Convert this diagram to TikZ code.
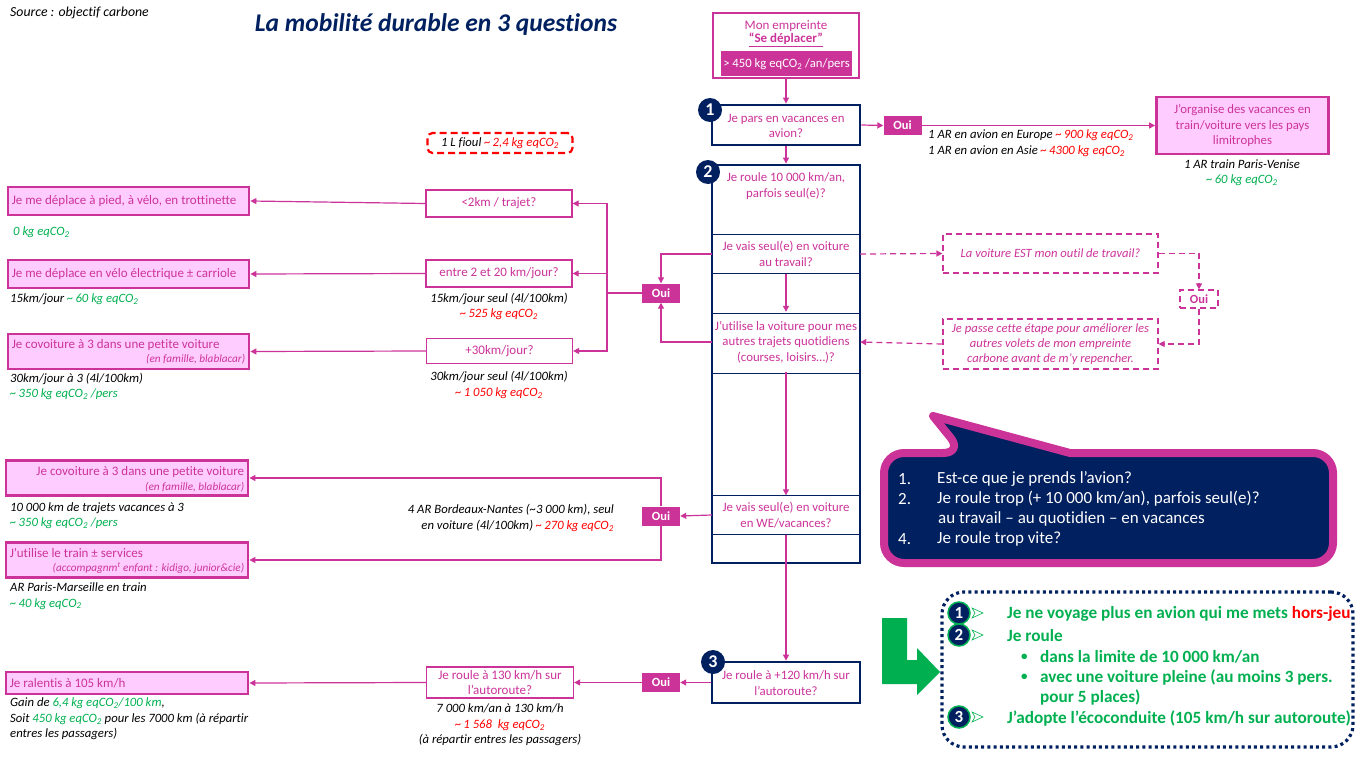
\documentclass[tikz,border=0pt]{standalone}
\usepackage{fontspec}
\setmainfont[Ligatures={TeX,NoCommon}]{Carlito}
\usetikzlibrary{arrows.meta,calc}
\definecolor{mag}{HTML}{CC3399}
\definecolor{pinkf}{HTML}{FFCCFF}
\definecolor{navy}{HTML}{002060}
\definecolor{grn}{HTML}{00B050}
\definecolor{rd}{HTML}{FF0000}
\newcommand\cotwo{eqCO\textsubscript{2}}
\newcommand\tld{\textasciitilde\,}
\tikzset{
  qbox/.style={draw=mag, line width=1.3pt, fill=white, text=mag, align=center, inner sep=0pt, font=\fontsize{13}{15.5}\selectfont},
  lbox/.style={draw=mag, line width=2.8pt, fill=pinkf, inner sep=0pt},
  ltxt/.style={text=mag, anchor=west, inner sep=0pt, font=\fontsize{13}{15}\selectfont},
  lsub/.style={text=mag, anchor=east, inner sep=0pt, font=\fontsize{11.2}{13}\selectfont\itshape},
  oui/.style={fill=mag, text=white, font=\fontsize{12.5}{14}\selectfont\bfseries, minimum width=38, minimum height=19, inner sep=0pt},
  nbox/.style={draw=navy, line width=2.8pt, fill=white, inner sep=0pt},
  rowline/.style={draw=navy, line width=0.9pt},
  row/.style={text=mag, align=center, inner sep=0pt, font=\fontsize{12.8}{15.5}\selectfont},
  arr/.style={draw=mag, line width=1.2pt, -{Triangle[length=6pt,width=6pt]}},
  ln/.style={draw=mag, line width=1.2pt},
  darr/.style={arr, dash pattern=on 6pt off 4pt},
  dbox/.style={draw=mag, line width=1.2pt, dash pattern=on 6pt off 4pt, text=mag, align=center, inner sep=0pt, font=\fontsize{12.6}{15}\selectfont\itshape},
  note/.style={inner sep=0pt, font=\fontsize{12.7}{15.5}\selectfont\itshape, align=center},
  notel/.style={note, anchor=west, align=left},
  noter/.style={note, anchor=east, align=right},
  badge/.style={circle, fill=navy, text=white, inner sep=0pt, minimum size=24, font=\fontsize{18}{18}\selectfont\bfseries},
  gbadge/.style={circle, fill=navy, draw=grn, line width=1.5pt, text=white, inner sep=0pt, minimum size=22, font=\fontsize{17}{17}\selectfont\bfseries},
  gtxt/.style={anchor=west, inner sep=0pt, text=grn, font=\fontsize{17.2}{19}\selectfont\bfseries},
  ctxt/.style={anchor=west, inner sep=0pt, text=white, font=\fontsize{17}{19}\selectfont},
}
\begin{document}
\begin{tikzpicture}[x=1pt,y=-1pt]
\useasboundingbox (0,0) rectangle (1366,768);
% header
\node[anchor=west, inner sep=0pt, font=\fontsize{13.8}{15}\selectfont\itshape] (src) at (10,13) {Source : objectif carbone};
\node[inner sep=0pt, text=navy, font=\fontsize{25.5}{28}\selectfont\bfseries\itshape] (title) at (436,25) {La mobilité durable en 3 questions};

% top box
\node[draw=mag, line width=1.3pt, minimum width=146, minimum height=65, inner sep=0pt] (emp) at (786,45.5) {};
\node[text=mag, inner sep=0pt, font=\fontsize{13}{15}\selectfont] (empt) at (786,26) {Mon empreinte};
\node[text=mag, inner sep=0pt, font=\fontsize{13}{15}\selectfont\bfseries] (emps) at (786,40) {\underline{“Se déplacer”}};
\node[fill=mag, text=white, minimum width=131, minimum height=25, inner sep=0pt, font=\fontsize{12.7}{15}\selectfont] (empv) at (786.5,64) {> 450 kg \cotwo{} /an/pers};

% box 1
\node[nbox, minimum width=148, minimum height=40] (b1) at (786,125) {};
\node[row] (b1t) at (786,126) {Je pars en vacances en\\avion?};

% box 2
\node[nbox, minimum width=148, minimum height=398] (b2) at (786,364) {};
\draw[rowline] (712,234) -- (860,234);
\draw[rowline] (712,273) -- (860,273);
\draw[rowline] (712,313) -- (860,313);
\draw[rowline] (712,373) -- (860,373);
\draw[rowline] (712,495) -- (860,495);
\draw[rowline] (712,534) -- (860,534);
\node[row] (r0) at (786,186) {Je roule 10 000 km/an,\\parfois seul(e)?};
\node[row, minimum width=148, minimum height=39] (r1) at (786,254) {Je vais seul(e) en voiture\\au travail?};
\node[row, minimum width=148, minimum height=60] (r2) at (786,342) {J’utilise la voiture pour mes\\autres trajets quotidiens\\(courses, loisirs…)?};
\node[row, minimum width=148, minimum height=39] (r3) at (786,515) {Je vais seul(e) en voiture\\en WE/vacances?};

% box 3
\node[nbox, minimum width=148, minimum height=41] (b3) at (786,682.5) {};
\node[row] (b3t) at (786,683) {Je roule à +120 km/h sur\\l’autoroute?};

% vertical arrows
\draw[arr] (emp.south) -- (b1.north);
\draw[arr] (b1.south) -- (b2.north);
\draw[arr] (r1.south) -- (r2.north);
\draw[arr] (r2.south) -- (r3.north);
\draw[arr] (r3.south) -- (b3.north);

% badges
\node[badge] (n1) at (710,110) {1};
\node[badge] (n2) at (708,172) {2};
\node[badge] (n3) at (713,662) {3};

% plane branch
\node[oui] (oui1) at (902.5,125.5) {Oui};
\node[lbox, minimum width=172, minimum height=57] (vac) at (1242.5,125.5) {};
\node[row] (vact) at (1242.5,126) {J’organise des vacances en\\train/voiture vers les pays\\limitrophes};
\draw[arr] (b1.east) -- (oui1.west);
\draw[arr] (oui1.east) -- (vac.west);
\node[notel] (eu) at (928,135) {1 AR en avion en Europe \textcolor{rd}{\tld 900 kg \cotwo}};
\node[notel] (as) at (928,151.5) {1 AR en avion en Asie \textcolor{rd}{\tld 4300 kg \cotwo}};
\node[note] (ven) at (1242,172.5) {1 AR train Paris-Venise\\\textcolor{grn}{\tld 60 kg \cotwo}};

% fuel box
\node[draw=rd, line width=2.2pt, dash pattern=on 7pt off 4pt, rounded corners=5pt, minimum width=145, minimum height=20, inner sep=0pt, font=\fontsize{12.7}{14}\selectfont\itshape] (fuel) at (500,143) {1 L fioul \textcolor{rd}{\tld 2,4 kg \cotwo}};

% daily branch
\node[oui] (ouiA) at (661,293) {Oui};
\draw[arr] (r1.west) -| (ouiA.north);
\draw[arr] (r2.west) -| (ouiA.south);
\coordinate (tr) at (607,293);
\node[qbox, minimum width=146, minimum height=27] (q1) at (499,203.5) {<2km / trajet?};
\node[qbox, minimum width=146, minimum height=27] (q2) at (499,273.5) {entre 2 et 20 km/jour?};
\node[qbox, minimum width=146, minimum height=25] (q3) at (499.5,351) {+30km/jour?};
\draw[ln] (ouiA.west) -- (tr);
\draw[arr] (tr) |- (q1.east);
\draw[arr] (tr) |- (q2.east);
\draw[arr] (tr) |- (q3.east);
\node[note] (q2n) at (499,306.5) {15km/jour seul (4l/100km)\\\textcolor{rd}{\tld 525 kg \cotwo}};
\node[note] (q3n) at (499,385) {30km/jour seul (4l/100km)\\\textcolor{rd}{\tld 1 050 kg \cotwo}};

\node[lbox, minimum width=241, minimum height=28] (l1) at (128.5,201) {};
\node[ltxt] (l1t) at ($(l1.west)+(5,0)$) {Je me déplace à pied, à vélo, en trottinette};
\node[lbox, minimum width=241, minimum height=28] (l2) at (128.5,274) {};
\node[ltxt] (l2t) at ($(l2.west)+(5,0)$) {Je me déplace en vélo électrique ± carriole};
\node[lbox, minimum width=241, minimum height=35] (l3) at (128.5,351.5) {};
\node[ltxt] (l3t) at ($(l3.north west)+(5,12)$) {Je covoiture à 3 dans une petite voiture};
\node[lsub] (l3s) at ($(l3.north east)+(-5,27)$) {(en famille, blablacar)};
\draw[arr] (q1.west) -- (l1.east);
\draw[arr] (q2.west) -- (l2.east);
\draw[arr] (q3.west) -- (l3.east);
\node[notel] (l1n) at (13,232) {\textcolor{grn}{0 kg \cotwo}};
\node[notel] (l2n) at (10,299) {15km/jour \textcolor{grn}{\tld 60 kg \cotwo}};
\node[notel] (l3n) at (10,386.5) {30km/jour à 3 (4l/100km)\\\textcolor{grn}{\tld 350 kg \cotwo{} /pers}};

% right dashed
\node[dbox, minimum width=215, minimum height=39] (D) at (1050.5,253.5) {La voiture EST mon outil de travail?};
\node[dbox, minimum width=215, minimum height=50] (E) at (1050.5,344) {Je passe cette étape pour améliorer les\\autres volets de mon empreinte\\carbone avant de m’y repencher.};
\node[dbox, font=\fontsize{12.5}{14}\selectfont\bfseries, minimum width=38, minimum height=18] (ouiD) at (1199,299) {Oui};
\draw[darr] (r1.east) -- (D.west);
\draw[darr] (D.east) -| (ouiD.north);
\draw[darr] (ouiD.south) |- (E.east);
\draw[darr] (E.west) -- (r2.east);

% WE branch
\node[oui] (ouiB) at (661,516) {Oui};
\draw[arr] (r3.west) -- (ouiB.east);
\node[lbox, minimum width=242, minimum height=35] (l4) at (127,478) {};
\node[ltxt, anchor=east] (l4t) at ($(l4.north east)+(-5,13)$) {Je covoiture à 3 dans une petite voiture};
\node[lsub] (l4s) at ($(l4.north east)+(-5,28)$) {(en famille, blablacar)};
\node[lbox, minimum width=242, minimum height=35] (l5) at (127,560) {};
\node[ltxt] (l5t) at ($(l5.north west)+(5,12)$) {J’utilise le train ± services};
\node[lsub] (l5s) at ($(l5.north east)+(-5,27)$) {(accompagnm\textsuperscript{t} enfant : kidigo, junior\&cie)};
\draw[arr] (ouiB.north) |- (l4.east);
\draw[arr] (ouiB.south) |- (l5.east);
\node[notel] (l4n) at (10,515.5) {10 000 km de trajets vacances à 3\\\textcolor{grn}{\tld 350 kg \cotwo{} /pers}};
\node[notel] (l5n) at (10,596) {AR Paris-Marseille en train\\\textcolor{grn}{\tld 40 kg \cotwo}};
\node[noter] (bn) at (614,518) {4 AR Bordeaux-Nantes (\textasciitilde3 000 km), seul\\en voiture (4l/100km) \textcolor{rd}{\tld 270 kg \cotwo}};

% speed branch
\node[oui] (ouiC) at (661,682.5) {Oui};
\node[qbox, minimum width=147, minimum height=31] (qH) at (500,682.5) {Je roule à 130 km/h sur\\l’autoroute?};
\node[lbox, minimum width=242, minimum height=22] (l6) at (127,683) {};
\node[ltxt] (l6t) at ($(l6.west)+(5,0)$) {Je ralentis à 105 km/h};
\draw[arr] (b3.west) -- (ouiC.east);
\draw[arr] (ouiC.west) -- (qH.east);
\draw[arr] (qH.west) -- (l6.east);
\node[note] (qHn) at (500,725) {7 000 km/an à 130 km/h\\\textcolor{rd}{\tld 1 568~ kg \cotwo}\\(à répartir entres les passagers)};
\node[notel] (l6n) at (10,719) {Gain de \textcolor{grn}{6,4 kg \cotwo/100 km},\\Soit \textcolor{grn}{450 kg \cotwo} pour les 7000 km (à répartir\\entres les passagers)};

% callout
\filldraw[draw=mag, fill=navy, line width=8pt, line join=round]
  (933,416) -- (1070,453) [rounded corners=20] -- (1333,453) -- (1333,563) -- (884,563) -- (884,453) -- (963,453) [sharp corners] -- cycle;
\node[ctxt] (c1) at (898,479) {1.};
\node[ctxt] (c1t) at (937,479) {Est-ce que je prends l’avion?};
\node[ctxt] (c2) at (898,499) {2.};
\node[ctxt] (c2t) at (937,499) {Je roule trop (+ 10 000 km/an), parfois seul(e)?};
\node[ctxt] (c3t) at (938,519) {au travail – au quotidien – en vacances};
\node[ctxt] (c4) at (898,539) {4.};
\node[ctxt] (c4t) at (937,539) {Je roule trop vite?};

% green arrow
\fill[grn] (882,618) -- (907,618) -- (907,660) -- (917,660) -- (917,648) -- (940,672) -- (917,695) -- (917,684) -- (882,684) -- cycle;

% recommendations
\node[draw=navy, line width=3.2pt, dash pattern=on 3pt off 3.2pt, rounded corners=22, minimum width=411, minimum height=155, inner sep=0pt] (reco) at (1147.5,669.5) {};
\foreach \yy/\nn in {613/1,635/2,717/3}{
  \node[gbadge] (g\nn) at (959,\yy) {\nn};
  \filldraw[draw=grn, fill=white, line width=0.6pt] (972,\yy-5) -- (983,\yy) -- (972,\yy+5) -- (975,\yy) -- cycle;
}
\node[gtxt] (t1) at (1007,614) {Je ne voyage plus en avion qui me mets \textcolor{rd}{hors-jeu}};
\node[gtxt] (t2) at (1007,636) {Je roule};
\node[gtxt, font=\fontsize{13}{15}\selectfont\bfseries] (t3b) at (1021,657) {•};
\node[gtxt] (t3) at (1040,657) {dans la limite de 10 000 km/an};
\node[gtxt, font=\fontsize{13}{15}\selectfont\bfseries] (t4b) at (1021,677) {•};
\node[gtxt] (t4) at (1040,677) {avec une voiture pleine (au moins 3 pers.};
\node[gtxt] (t5) at (1040,697) {pour 5 places)};
\node[gtxt] (t6) at (1007,718) {J’adopte l’écoconduite (105 km/h sur autoroute)};
\end{tikzpicture}
\end{document}
